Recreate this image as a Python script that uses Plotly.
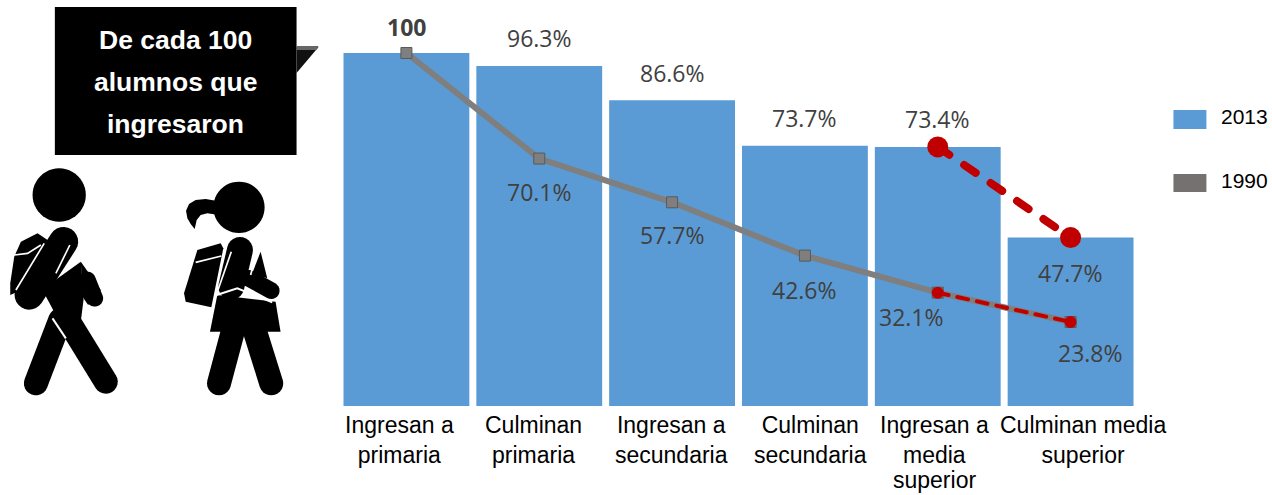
import math
import plotly.graph_objects as go

categories = ["Ingresan a primaria", "Culminan primaria", "Ingresan a secundaria",
              "Culminan secundaria", "Ingresan a media superior", "Culminan media superior"]
tick_lines = ["Ingresan a<br>primaria", "Culminan<br>primaria", "Ingresan a<br>secundaria",
              "Culminan<br>secundaria", "Ingresan a<br>media", "Culminan media<br>superior"]
tick_last_line = "superior"
values_2013 = [100, 96.3, 86.6, 73.7, 73.4, 47.7]
values_1990 = [100, 70.1, 57.7, 42.6, 32.1, 23.8]
labels_2013 = ["100", "96.3%", "86.6%", "73.7%", "73.4%", "47.7%"]
labels_1990 = ["70.1%", "57.7%", "42.6%", "32.1%", "23.8%"]

W, H = 1272, 495
L, R, T, B = 339.5, 134.5, 53, 89
BLUE, GREY, RED = "#5b9bd5", "#7f7f7f", "#c00000"
TXT = "#404040"
LAB = "Open Sans"
ARIAL = "Liberation Sans"


def px(x):
    return (x - L) / (W - L - R)


def py(y):
    return (H - B - y) / (H - T - B)


def path(points, close=True):
    s = "M" + " L".join(f"{px(x):.5f},{py(y):.5f}" for x, y in points)
    return s + (" Z" if close else "")


def z(points):
    return [(x / 3, y / 3) for x, y in points]


def capsule(x1, y1, x2, y2, w):
    r = w / 2
    a = math.atan2(y2 - y1, x2 - x1)
    pts = []
    for i in range(13):
        t = a + math.pi / 2 + math.pi * i / 12
        pts.append((x1 + r * math.cos(t), y1 + r * math.sin(t)))
    for i in range(13):
        t = a - math.pi / 2 + math.pi * i / 12
        pts.append((x2 + r * math.cos(t), y2 + r * math.sin(t)))
    return pts


shapes = []


def poly(points, color="black"):
    shapes.append(dict(type="path", xref="paper", yref="paper", path=path(points),
                       fillcolor=color, line=dict(width=0)))


def zpoly(points, color="black"):
    poly(z(points), color)


def zcap(x1, y1, x2, y2, w, color="black"):
    zpoly(capsule(x1, y1, x2, y2, w), color)


def zline(points, w):
    shapes.append(dict(type="path", xref="paper", yref="paper", path=path(z(points), False),
                       line=dict(color="white", width=w / 3)))


def zcircle(cx, cy, r):
    poly([(cx / 3 + r / 3 * math.cos(i * math.pi / 24), cy / 3 + r / 3 * math.sin(i * math.pi / 24))
          for i in range(48)])


# callout
poly([(54, 7), (296, 7), (296, 155), (54, 155)])
poly([(296, 47), (318, 47), (296, 73)], "#111111")
poly([(296, 46), (318, 46), (316, 50), (296, 50)], "#666666")

# boy
zcircle(175, 585, 80)
zpoly([(40, 770), (60, 725), (110, 700), (140, 720), (50, 875), (28, 885), (28, 850)])
zcap(188, 725, 85, 885, 88)
zpoly([(240, 785), (248, 900), (240, 965), (165, 945), (130, 880), (150, 850)])
zpoly([(240, 785), (300, 870), (262, 915), (245, 890)])
zcap(260, 840, 282, 895, 50)
zcap(178, 960, 105, 1150, 72)
zcap(195, 950, 315, 1145, 72)
zline([(155, 955), (195, 1015)], 6)
zline([(207, 735), (165, 820)], 5)
zline([(120, 735), (80, 760), (40, 765)], 5)
zline([(130, 730), (45, 870)], 5)

# girl
zcircle(715, 622, 77)
zpoly([(650, 603), (615, 597), (585, 600), (565, 612), (556, 632), (560, 655), (570, 672), (582, 687),
       (588, 660), (600, 645), (620, 640), (655, 645)])
zpoly([(590, 750), (660, 730), (668, 745), (632, 922), (555, 905), (550, 880)])
zcap(718, 750, 692, 860, 78)
zcap(745, 835, 812, 872, 50)
zpoly([(780, 755), (800, 835), (755, 820)])
zpoly([(650, 885), (825, 905), (840, 995), (628, 995)])
zcap(695, 1000, 655, 1150, 72)
zcap(765, 1000, 812, 1150, 72)
zline([(652, 870), (692, 755)], 5)
zline([(648, 885), (710, 865), (815, 907)], 6)
zline([(585, 787), (662, 768)], 5)
zline([(765, 770), (750, 825)], 5)

# legend swatches
poly([(1174, 110), (1207, 110), (1207, 129), (1174, 129)], BLUE)
poly([(1174, 174), (1207, 174), (1207, 192), (1174, 192)], "#767171")

fig = go.Figure()
idx = list(range(6))
fig.add_bar(x=idx, y=values_2013, width=126 / 133, marker=dict(color=BLUE, line=dict(width=0)), name="2013")
fig.add_scatter(x=idx, y=values_1990, mode="lines+markers", name="1990",
                line=dict(color=GREY, width=6),
                marker=dict(symbol="square", size=11, color=GREY, line=dict(color="#595959", width=1)))
fig.add_scatter(x=idx[4:], y=values_1990[4:], mode="lines+markers", name="1990 media",
                line=dict(color=RED, width=4, dash="11px,9px"),
                marker=dict(symbol="circle", size=12, color=RED))
fig.add_scatter(x=idx[4:], y=values_2013[4:], mode="lines+markers", name="2013 media",
                line=dict(color=RED, width=8, dash="14px,18px"),
                marker=dict(symbol="circle", size=21, color=RED))

ann = []


def data_label(i, v, text, dx, dy, bold=False):
    ann.append(dict(x=i, y=v, xref="x", yref="y", text=f"<b>{text}</b>" if bold else text,
                    showarrow=False, xshift=dx, yshift=-dy, xanchor="center", yanchor="middle",
                    font=dict(family=LAB, size=23, color=TXT)))


label_2013_offsets = [(0, -26), (0, -28), (0, -27), (0, -28), (0, -28), (0, 35)]
label_1990_offsets = [(0, 33), (0, 33), (0, 34), (-26, 24), (20, 31)]
for i, (v, t, o) in enumerate(zip(values_2013, labels_2013, label_2013_offsets)):
    data_label(i, v, t, o[0], o[1], bold=(i == 0))
for i, (v, t, o) in enumerate(zip(values_1990[1:], labels_1990, label_1990_offsets)):
    data_label(i + 1, v, t, o[0], o[1])

tick_shifts = [-7, -6, -1, 6, -3, 12]
for i, (t, s) in enumerate(zip(tick_lines, tick_shifts)):
    ann.append(dict(x=i, y=0, xref="x", yref="y", text=t, showarrow=False, xshift=s, yshift=-4,
                    xanchor="center", yanchor="top", align="center",
                    font=dict(family=ARIAL, size=23, color="black")))
ann.append(dict(x=4, y=py(495), xref="x", yref="paper", text=tick_last_line, showarrow=False, xshift=-3,
                xanchor="center", yanchor="bottom", font=dict(family=ARIAL, size=23, color="black")))


def free_text(x, y, text, size, color, xanchor="center"):
    ann.append(dict(x=px(x), y=py(y), xref="paper", yref="paper", text=text, showarrow=False,
                    xanchor=xanchor, yanchor="middle", font=dict(family=ARIAL, size=size, color=color)))


free_text(175, 40, "<b>De cada 100</b>", 26.5, "white")
free_text(175, 82, "<b>alumnos que</b>", 26.5, "white")
free_text(175, 124, "<b>ingresaron</b>", 26.5, "white")
free_text(1220, 116, "2013", 21, "black", "left")
free_text(1220, 180, "1990", 21, "black", "left")

fig.update_layout(
    width=W, height=H, margin=dict(l=L, r=R, t=T, b=B, pad=0, autoexpand=False),
    paper_bgcolor="white", plot_bgcolor="white", showlegend=False,
    xaxis=dict(range=[-0.5, 5.5], visible=False, fixedrange=True),
    yaxis=dict(range=[0, 100], visible=False, fixedrange=True),
    shapes=shapes, annotations=ann,
)
fig.update_traces(cliponaxis=False)
post = """document.body.style.margin='0';
var rounded=function(){document.querySelectorAll('.scatterlayer .trace').forEach(function(t,i){
 if(i>0){var l=t.querySelector('.js-line');if(l){l.style.strokeLinecap='round';}}});};
rounded();
"""
fig.write_html("out.html", post_script=post, config=dict(displayModeBar=False))
